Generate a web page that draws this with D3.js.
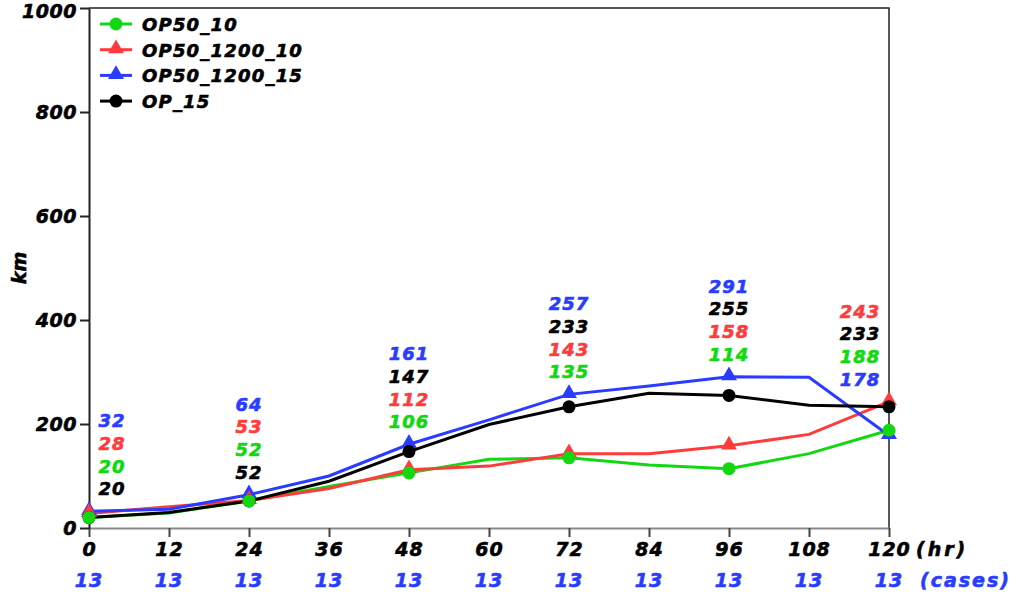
<!DOCTYPE html>
<html>
<head>
<meta charset="utf-8">
<script src="https://cdn.jsdelivr.net/npm/d3@7"></script>
<style>
  body { margin: 0; background: #fff; }
  svg text { font-family: "DejaVu Sans", sans-serif; font-weight: bold; font-style: italic; stroke-width: 0.6px; }
</style>
</head>
<body>
<div id="chart"></div>
<script>
// forecast hours and number of cases
const hours = [0, 12, 24, 36, 48, 60, 72, 84, 96, 108, 120];
const cases = [13, 13, 13, 13, 13, 13, 13, 13, 13, 13, 13];
const labelHours = [0, 24, 48, 72, 96, 120];
const yTicks = [0, 200, 400, 600, 800, 1000];

// track error (km) per experiment
const op50_10 = [20, 29, 52, 80, 106, 132, 135, 121, 114, 143, 188];
const op50_1200_10 = [28, 41, 53, 76, 112, 119, 143, 143, 158, 180, 243];
const op50_1200_15 = [32, 36, 64, 100, 161, 208, 257, 273, 291, 290, 178];
const op_15 = [20, 30, 52, 90, 147, 199, 233, 259, 255, 236, 233];

const series = [
  {name: "OP50_10", values: op50_10, color: "#12d812", marker: "circle"},
  {name: "OP50_1200_10", values: op50_1200_10, color: "#ff3b3b", marker: "triangle"},
  {name: "OP50_1200_15", values: op50_1200_15, color: "#2a3cff", marker: "triangle"},
  {name: "OP_15", values: op_15, color: "#000000", marker: "circle"}
];

const width = 1014, height = 596;
const margin = {top: 8, right: 125, bottom: 68, left: 89};

const svg = d3.select("#chart").append("svg")
    .attr("width", width)
    .attr("height", height);

const x = d3.scaleLinear()
    .domain([0, 120])
    .range([margin.left, width - margin.right]);

const y = d3.scaleLinear()
    .domain([0, 1000])
    .range([height - margin.bottom, margin.top]);

// frame: top and right edges
svg.append("path")
    .attr("d", `M${x(0)},${y(1000)}H${x(120)}V${y(0)}`)
    .attr("fill", "none")
    .attr("stroke", "#222")
    .attr("stroke-width", 1.5);

// x axis
const xAxis = svg.append("g")
    .attr("transform", `translate(0,${y(0)})`)
    .call(d3.axisBottom(x).tickValues(hours).tickSize(9).tickSizeOuter(0).tickPadding(6));
xAxis.select(".domain").attr("stroke", "#888").attr("stroke-width", 2);
xAxis.selectAll(".tick line").attr("stroke", "#444").attr("stroke-width", 2);
xAxis.selectAll(".tick text")
    .attr("font-size", 19)
    .attr("font-family", "DejaVu Sans")
    .attr("fill", "#000")
    .attr("stroke", "#000")
    .attr("letter-spacing", 1);

// case counts row
svg.append("g").selectAll("text")
    .data(hours)
    .enter().append("text")
    .attr("x", (d, i) => x(d))
    .attr("y", 587)
    .attr("text-anchor", "middle")
    .attr("font-size", 19)
    .attr("letter-spacing", 1)
    .attr("fill", "#2a3cff")
    .attr("stroke", "#2a3cff")
    .text((d, i) => cases[i]);

svg.append("text")
    .attr("x", 916).attr("y", 556)
    .attr("font-size", 19).attr("letter-spacing", 3)
    .attr("stroke", "#000")
    .text("(hr)");
svg.append("text")
    .attr("x", 920).attr("y", 587)
    .attr("font-size", 19).attr("letter-spacing", 2)
    .attr("fill", "#2a3cff")
    .attr("stroke", "#2a3cff")
    .text("(cases)");

// y axis
const yAxis = svg.append("g")
    .attr("transform", `translate(${x(0)},0)`)
    .call(d3.axisLeft(y).tickValues(yTicks).tickFormat(d3.format("d")).tickSize(9).tickSizeOuter(0).tickPadding(3));
yAxis.select(".domain").attr("stroke", "#222").attr("stroke-width", 2);
yAxis.selectAll(".tick line").attr("stroke", "#222").attr("stroke-width", 2);
yAxis.selectAll(".tick text")
    .attr("font-size", 19)
    .attr("font-family", "DejaVu Sans")
    .attr("fill", "#000")
    .attr("stroke", "#000")
    .attr("letter-spacing", 0.5);
// keep the top label inside the picture
yAxis.selectAll(".tick text").filter(d => d === 1000).attr("dy", "0.5em");

svg.append("text")
    .attr("transform", `translate(26,${y(500)}) rotate(-90)`)
    .attr("text-anchor", "middle")
    .attr("font-size", 19)
    .attr("stroke", "#000")
    .text("km");

// lines
const line = d3.line()
    .x((d, i) => x(hours[i]))
    .y(d => y(d));

svg.append("g").selectAll("path")
    .data(series)
    .enter().append("path")
    .attr("d", d => line(d.values))
    .attr("fill", "none")
    .attr("stroke", d => d.color)
    .attr("stroke-width", 3);

const triangle = d3.symbol().type(d3.symbolTriangle).size(110);

function drawMarker(g, s, cx, cy) {
  if (s.marker === "circle") {
    g.append("circle").attr("cx", cx).attr("cy", cy).attr("r", 6.5).attr("fill", s.color);
  } else {
    g.append("path").attr("d", triangle()).attr("transform", `translate(${cx},${cy - 1})`).attr("fill", s.color);
  }
}

// markers at labelled hours (draw order: blue, red, black, green on top)
const markerOrder = [2, 1, 3, 0];
const markers = svg.append("g");
markerOrder.forEach(k => {
  const s = series[k];
  labelHours.forEach(h => {
    const i = hours.indexOf(h);
    drawMarker(markers, s, x(h), y(s.values[i]));
  });
});

// value labels stacked above highest point
const labels = svg.append("g");
labelHours.forEach(h => {
  const i = hours.indexOf(h);
  const items = series.map(s => ({v: s.values[i], color: s.color}));
  items.sort((a, b) => b.v - a.v);
  const top = y(items[0].v);
  let cx = x(h);
  if (h === 0) cx += 23;
  if (h === 120) cx -= 29;
  items.forEach((it, j) => {
    labels.append("text")
      .attr("x", cx)
      .attr("y", top - 23 - (items.length - 1 - j) * 22.7 + 7)
      .attr("text-anchor", "middle")
      .attr("font-size", 18)
      .attr("letter-spacing", 1)
      .attr("fill", it.color)
      .attr("stroke", it.color)
      .text(it.v);
  });
});

// legend
const legend = svg.append("g");
series.forEach((s, k) => {
  const ly = 24 + k * 25.7;
  legend.append("line")
    .attr("x1", 100).attr("x2", 132)
    .attr("y1", ly).attr("y2", ly)
    .attr("stroke", s.color).attr("stroke-width", 3);
  drawMarker(legend, s, 116, ly);
  legend.append("text")
    .attr("x", 142).attr("y", ly + 7)
    .attr("font-size", 18)
    .attr("letter-spacing", 1.2)
    .attr("stroke", "#000")
    .text(s.name);
});
</script>
</body>
</html>
